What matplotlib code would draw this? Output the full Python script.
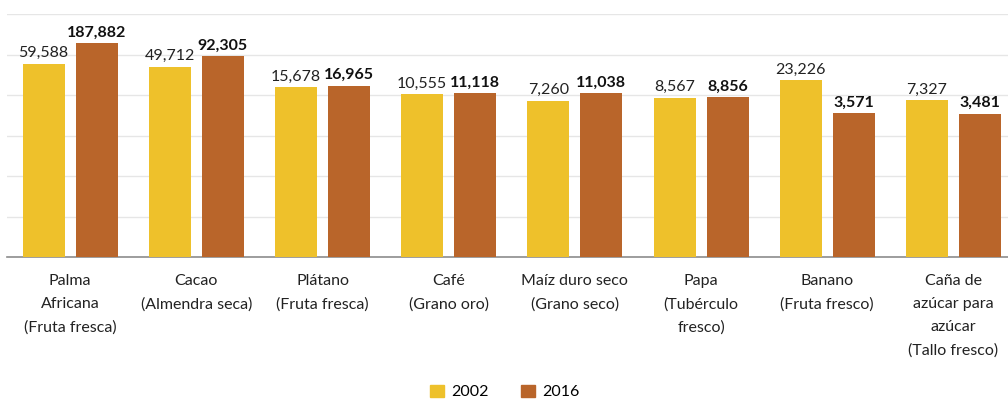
import matplotlib
matplotlib.use("Agg")
import matplotlib.pyplot as plt
from matplotlib.patches import Patch
import numpy as np

# Data
categories = [
    "Palma\nAfricana\n(Fruta fresca)",
    "Cacao\n(Almendra seca)",
    "Plátano\n(Fruta fresca)",
    "Café\n(Grano oro)",
    "Maíz duro seco\n(Grano seco)",
    "Papa\n(Tubérculo\nfresco)",
    "Banano\n(Fruta fresco)",
    "Caña de\nazúcar para\nazúcar\n(Tallo fresco)",
]
values_2002 = [59588, 49712, 15678, 10555, 7260, 8567, 23226, 7327]
values_2016 = [187882, 92305, 16965, 11118, 11038, 8856, 3571, 3481]
series_labels = ["2002", "2016"]

color_2002 = "#EEC12B"
color_2016 = "#B9652A"

plt.rcParams['font.family'] = ['Lato', 'DejaVu Sans']

fig = plt.figure(figsize=(10.08, 4.0), dpi=100)
ax = fig.add_axes([7 / 1008, 1 - 257 / 400, 1001 / 1008, (257 - 14) / 400])

x = np.arange(len(categories))
width = 0.333
offset = 0.21

bars1 = ax.bar(x - offset, values_2002, width, color=color_2002, zorder=3)
bars2 = ax.bar(x + offset, values_2016, width, color=color_2016, zorder=3)

ax.set_yscale("log")
ax.set_ylim(1, 1e6)
ax.set_xlim(-0.5, -0.5 + 1001 / 126.2)

# light gridlines at each decade
ax.yaxis.grid(True, color="#E6E6E6", linewidth=1, zorder=0)
ax.set_yticks([10 ** k for k in range(0, 7)])
ax.yaxis.set_minor_locator(matplotlib.ticker.NullLocator())
ax.tick_params(axis="y", left=False, labelleft=False)

for side in ["top", "right", "left"]:
    ax.spines[side].set_visible(False)
ax.spines["bottom"].set_color("#8C8C8C")
ax.spines["bottom"].set_linewidth(1.2)

ax.set_xticks(x)
ax.set_xticklabels(categories, fontsize=11.5, color="#222222", linespacing=1.82)
ax.tick_params(axis="x", length=0, pad=12)

for b, v in zip(bars1, values_2002):
    ax.annotate(f"{v:,}", (b.get_x() + b.get_width() / 2, v),
                xytext=(0, 2.5), textcoords="offset points",
                ha="center", va="bottom", fontsize=11.5, color="#222222")
for b, v in zip(bars2, values_2016):
    ax.annotate(f"{v:,}", (b.get_x() + b.get_width() / 2, v),
                xytext=(0, 2.5), textcoords="offset points",
                ha="center", va="bottom", fontsize=11.5, fontweight="bold",
                color="#111111")

handles = [Patch(color=color_2002, label=series_labels[0]),
           Patch(color=color_2016, label=series_labels[1])]
fig.legend(handles=handles, loc="center", bbox_to_anchor=(505 / 1008, 1 - 392 / 400),
           ncol=2, frameon=False, fontsize=11.5, handlelength=0.85, handleheight=0.85,
           columnspacing=2.0, handletextpad=0.5)

fig.savefig("out.png", dpi=100)
